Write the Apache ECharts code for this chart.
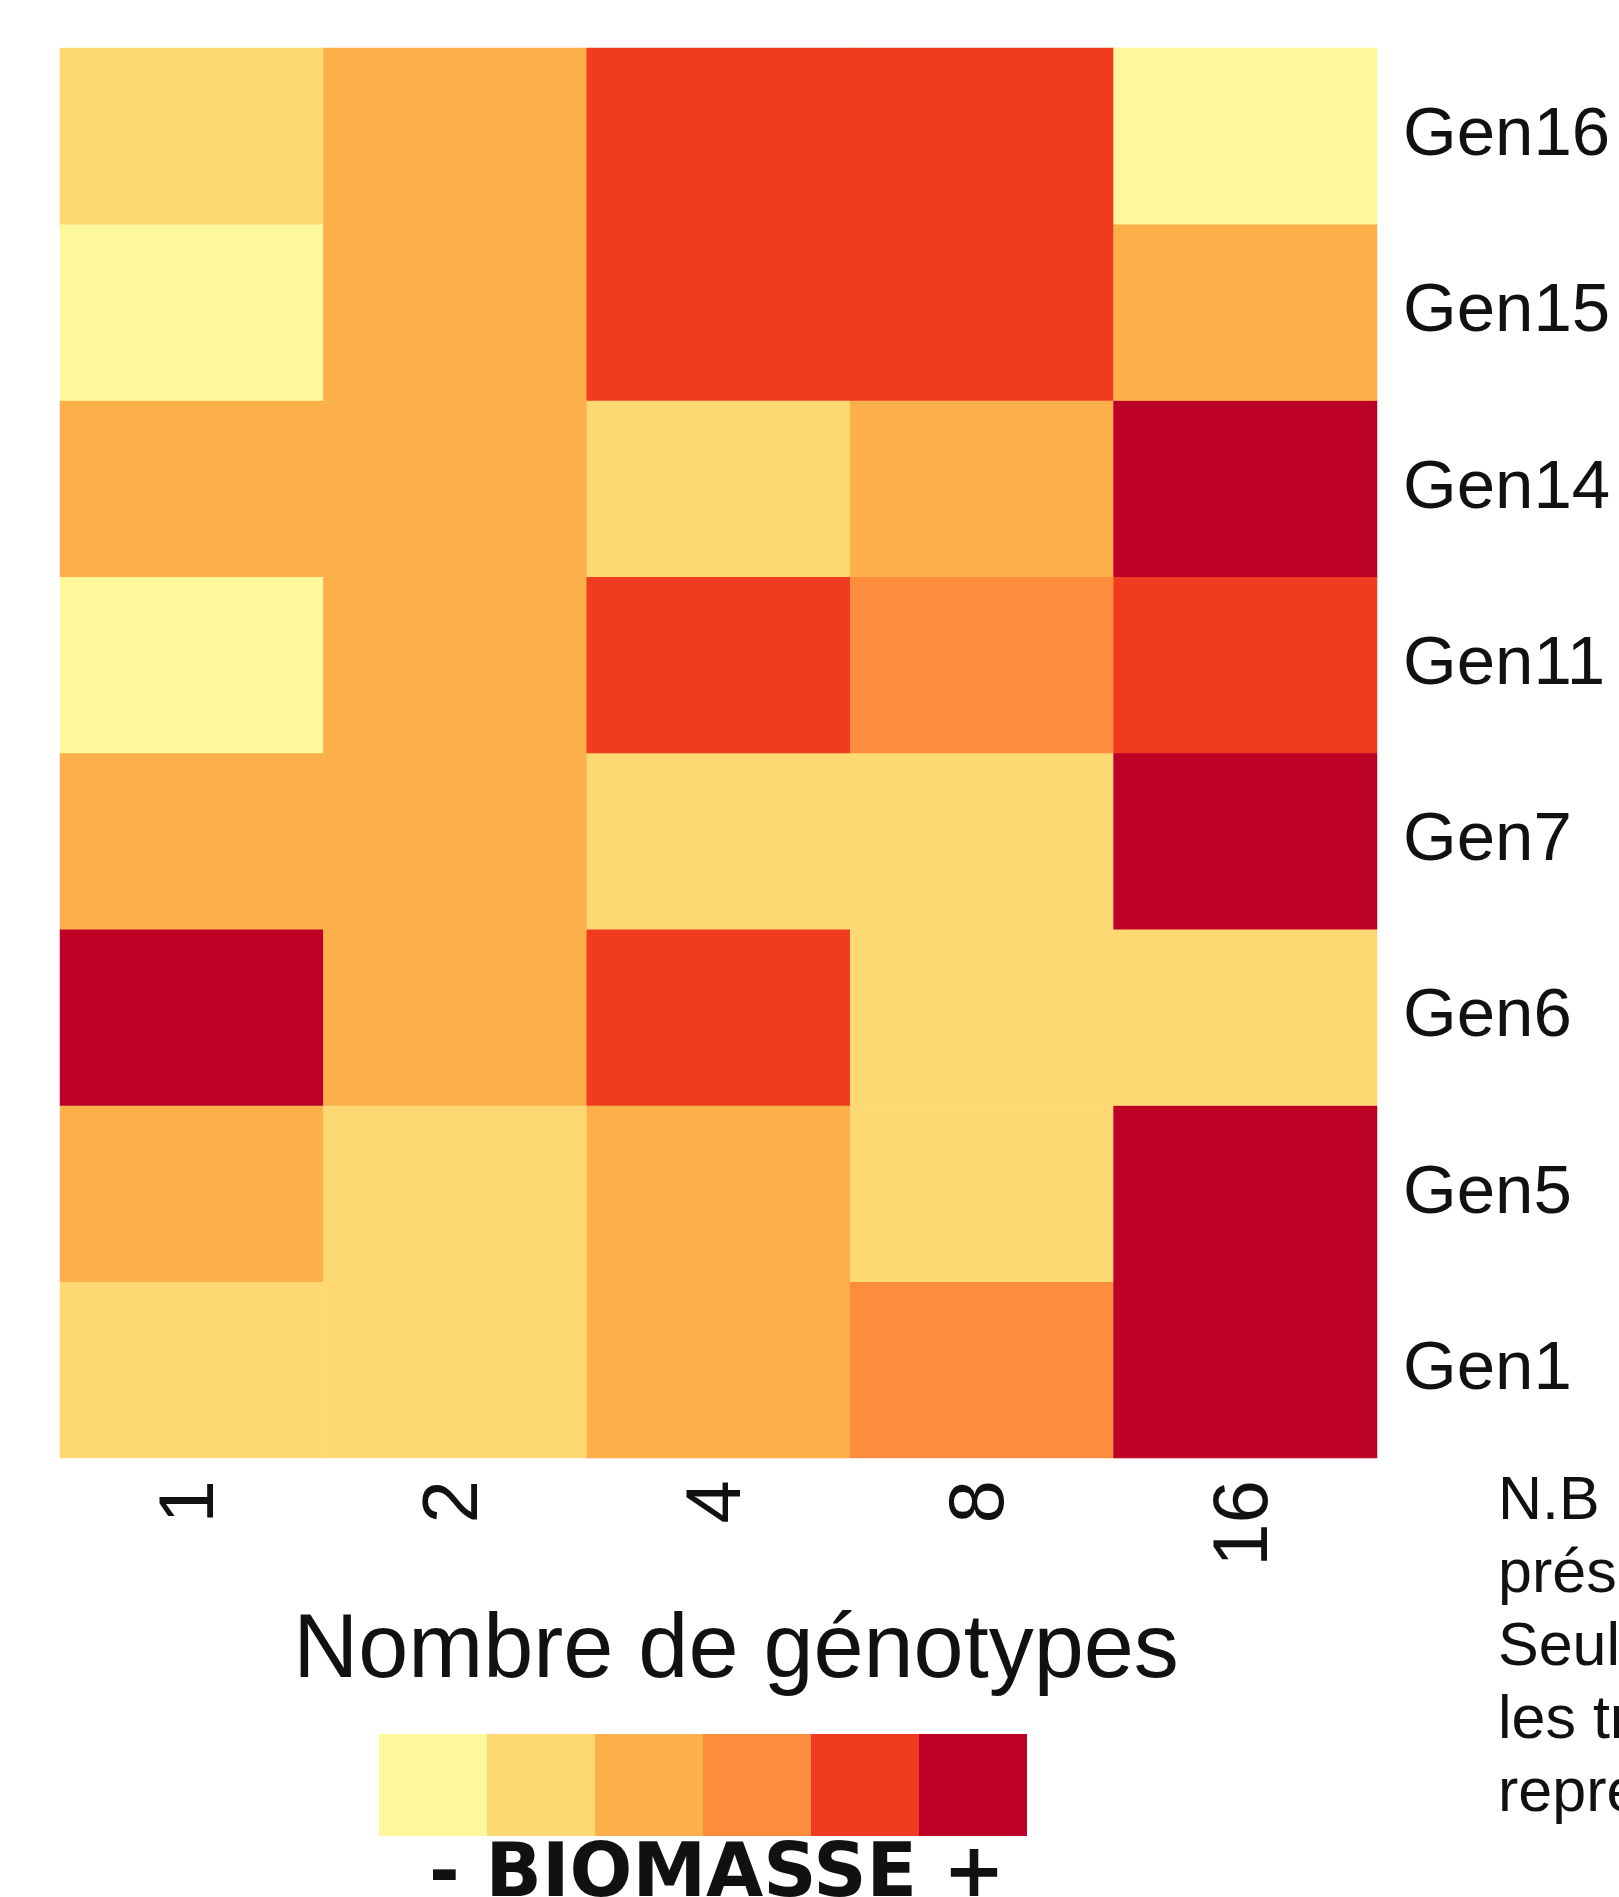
<!DOCTYPE html>
<html>
<head>
<meta charset="utf-8">
<title>Biomasse par génotype</title>
<script src="https://cdn.jsdelivr.net/npm/echarts@6/dist/echarts.min.js"></script>
<style>
  html, body { margin: 0; padding: 0; background: #fff; }
  #chart { width: 1619px; height: 1897px; }
</style>
</head>
<body>
<div id="chart"></div>
<script>
// nombre de génotypes (axe x)
const nbGenotypes = ["1", "2", "4", "8", "16"];
// génotypes (axe y, de bas en haut)
const genotypes = ["Gen1", "Gen5", "Gen6", "Gen7", "Gen11", "Gen14", "Gen15", "Gen16"];
// classe de biomasse (1 = faible ... 6 = forte), une ligne par génotype, colonnes = nbGenotypes
const gen1 = [2, 2, 3, 4, 6];
const gen5 = [3, 2, 3, 2, 6];
const gen6 = [6, 3, 5, 2, 2];
const gen7 = [3, 3, 2, 2, 6];
const gen11 = [1, 3, 5, 4, 5];
const gen14 = [3, 3, 2, 3, 6];
const gen15 = [1, 3, 5, 5, 3];
const gen16 = [2, 3, 5, 5, 1];
const niveaux = [1, 2, 3, 4, 5, 6];
const couleurs = ["#fef89c", "#fdd873", "#fdb04a", "#fd8d3c", "#f03b20", "#bd0026"];
const noteLignes = ["N.B", "présents", "Seuls", "les traitements", "représentés"];

const lignes = [gen1, gen5, gen6, gen7, gen11, gen14, gen15, gen16];
const data = [];
lignes.forEach((ligne, y) => {
  ligne.forEach((v, x) => data.push([x, y, v]));
});

const chart = echarts.init(document.getElementById("chart"));

const options = {
  backgroundColor: "#fff",
  animation: false,
  grid: {
    left: 60,
    top: 48,
    width: 1317,
    height: 1410,
  },
  xAxis: {
    type: "category",
    data: nbGenotypes,
    axisLine: { show: false },
    axisTick: { show: false },
    splitArea: { show: false },
    axisLabel: {
      rotate: 90,
      margin: 22,
      fontSize: 78,
      fontFamily: "Liberation Sans",
      color: "#111",
    },
  },
  yAxis: {
    type: "category",
    data: genotypes,
    position: "right",
    axisLine: { show: false },
    axisTick: { show: false },
    splitArea: { show: false },
    axisLabel: {
      margin: 26,
      fontSize: 69,
      fontFamily: "Liberation Sans",
      color: "#111",
    },
  },
  visualMap: {
    type: "piecewise",
    orient: "horizontal",
    left: 379,
    top: 1734,
    padding: 0,
    itemWidth: 108,
    itemHeight: 102,
    itemGap: 0,
    itemSymbol: "rect",
    showLabel: false,
    selectedMode: false,
    pieces: niveaux.map((n, i) => ({ value: n, color: couleurs[i] })),
  },
  graphic: [
    {
      type: "text",
      x: 736,
      y: 1652,
      style: {
        text: "Nombre de génotypes",
        font: "90px 'Liberation Sans'",
        fill: "#111",
        align: "center",
        verticalAlign: "middle",
      },
    },
    {
      type: "text",
      x: 717,
      y: 1877,
      style: {
        text: "- BIOMASSE +",
        font: "bold 74px 'DejaVu Sans'",
        fill: "#111",
        align: "center",
        verticalAlign: "middle",
      },
    },
    {
      type: "text",
      x: 1498,
      y: 1466,
      style: {
        text: noteLignes.join("\n"),
        font: "61px 'Liberation Sans'",
        lineHeight: 73,
        fill: "#111",
        align: "left",
        verticalAlign: "top",
      },
    },
  ],
  series: [
    {
      type: "heatmap",
      data: data,
      itemStyle: { borderWidth: 0 },
      emphasis: { disabled: true },
    },
  ],
};
chart.setOption(options);
</script>
</body>
</html>
